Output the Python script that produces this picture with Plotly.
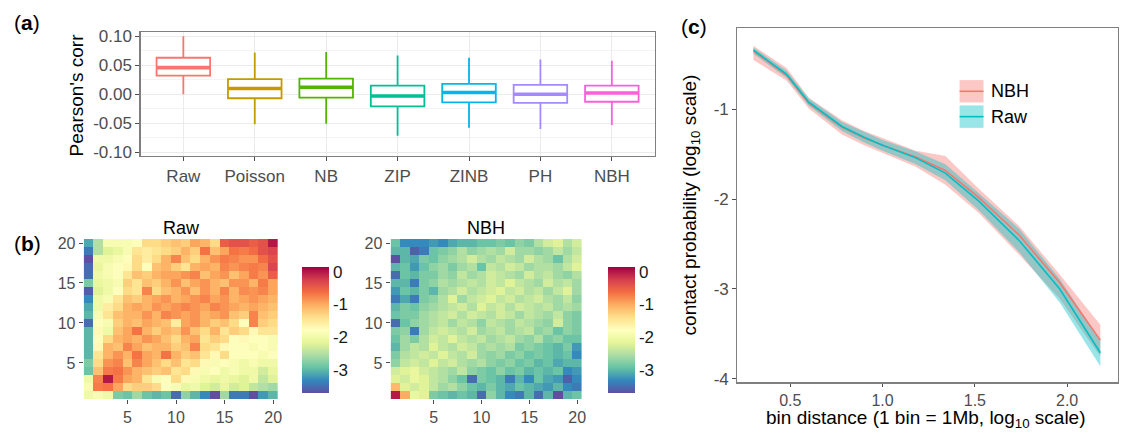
import plotly.graph_objects as go

W, H = 1134, 440
FONT = "Liberation Sans, Arial, Helvetica, sans-serif"

# ---------------- panel (a) data ----------------
models = ["Raw", "Poisson", "NB", "ZIP", "ZINB", "PH", "NBH"]
box_colors = ["#F8766D", "#C49A00", "#53B400", "#00C094", "#00B6EB", "#A58AFF", "#FB61D7"]
upper_whisker = [0.100, 0.072, 0.073, 0.067, 0.063, 0.060, 0.058]
q3_vals = [0.063, 0.026, 0.027, 0.015, 0.018, 0.016, 0.015]
median_vals = [0.046, 0.010, 0.012, -0.003, 0.003, 0.000, 0.002]
q1_vals = [0.032, -0.007, -0.006, -0.021, -0.014, -0.015, -0.013]
lower_whisker = [0.000, -0.052, -0.051, -0.072, -0.058, -0.060, -0.053]
a_yticks = [-0.10, -0.05, 0.00, 0.05, 0.10]
a_yticklabels = ["-0.10", "-0.05", "0.00", "0.05", "0.10"]

# ---------------- panel (b) data (rows listed from bin 20 at top down to bin 1) ----------------
bins = list(range(1, 21))
raw_rows = [
    [-3.1, -2.5, -1.9, -1.9, -1.9, -1.8, -1.35, -1.35, -1.25, -1.15, -1.25, -0.95, -1.05, -1.35, -0.5, -0.4, -0.4, -0.5, -0.4, 0.0],
    [-3.4, -2.5, -2.2, -2.1, -1.9, -1.45, -1.55, -1.45, -1.35, -1.25, -1.05, -1.25, -0.65, -1.15, -0.95, -0.65, -0.7, -0.6, -0.4, -0.3],
    [-3.7, -2.0, -2.0, -1.9, -1.8, -1.35, -1.55, -1.35, -1.05, -0.75, -1.15, -1.35, -1.05, -0.85, -0.7, -0.75, -0.85, -0.85, -0.6, -0.4],
    [-3.5, -2.1, -1.9, -1.8, -1.7, -1.35, -1.8, -1.15, -1.05, -1.25, -1.45, -1.05, -0.95, -1.05, -0.75, -0.85, -0.75, -0.7, -0.75, -0.3],
    [-3.5, -2.0, -1.9, -1.8, -1.45, -1.15, -1.25, -1.05, -0.95, -0.95, -0.85, -0.75, -1.15, -0.95, -0.85, -1.15, -0.95, -0.7, -0.85, -0.5],
    [-2.8, -2.1, -2.0, -1.9, -1.25, -1.45, -1.15, -1.25, -1.05, -0.85, -1.15, -0.95, -0.85, -1.05, -1.15, -0.85, -0.85, -1.05, -0.7, -0.95],
    [-3.6, -2.2, -2.0, -1.8, -1.35, -1.45, -0.75, -1.35, -1.15, -1.05, -0.85, -1.15, -0.85, -1.05, -0.75, -1.05, -0.8, -0.85, -0.75, -0.95],
    [-3.3, -2.0, -1.9, -1.45, -1.15, -1.25, -1.05, -0.95, -0.85, -1.05, -0.95, -0.85, -0.75, -0.95, -0.85, -1.05, -0.95, -0.85, -0.95, -1.05],
    [-3.1, -2.0, -1.55, -1.35, -1.05, -0.95, -1.05, -0.85, -0.95, -0.85, -0.75, -0.85, -0.95, -0.75, -0.85, -0.95, -1.05, -0.95, -1.05, -1.15],
    [-3.0, -1.9, -1.45, -1.15, -1.05, -1.05, -0.85, -1.05, -0.75, -0.85, -0.95, -0.85, -1.05, -0.95, -0.85, -1.15, -1.25, -0.75, -1.15, -1.25],
    [-3.5, -1.8, -1.9, -1.25, -1.05, -1.15, -0.95, -1.05, -1.15, -1.55, -0.95, -0.85, -1.05, -1.25, -1.15, -1.35, -1.8, -0.75, -1.25, -1.35],
    [-3.0, -1.7, -2.0, -1.15, -0.95, -0.65, -1.05, -1.25, -1.05, -1.15, -0.85, -1.15, -1.35, -1.05, -1.45, -1.25, -1.35, -1.7, -1.45, -1.45],
    [-3.0, -1.8, -1.35, -1.05, -0.95, -1.05, -0.85, -0.95, -1.15, -1.35, -1.05, -0.95, -1.45, -1.25, -1.35, -1.8, -1.7, -1.8, -1.8, -1.9],
    [-3.0, -1.7, -1.05, -1.15, -0.75, -0.95, -1.15, -1.05, -1.05, -1.25, -1.15, -0.75, -1.35, -1.45, -1.7, -1.8, -1.8, -1.9, -1.8, -1.9],
    [-3.0, -1.45, -1.05, -0.85, -1.05, -0.65, -0.95, -1.05, -0.65, -1.05, -1.25, -1.15, -1.45, -1.7, -1.35, -1.8, -1.8, -1.8, -1.9, -1.8],
    [-2.8, -1.35, -0.85, -0.75, -1.15, -0.75, -0.95, -1.15, -1.35, -1.15, -1.45, -1.35, -1.7, -1.9, -1.8, -1.9, -2.0, -1.9, -2.0, -2.0],
    [-2.9, -1.15, -0.7, -0.65, -0.85, -1.05, -1.15, -1.25, -1.15, -1.45, -1.35, -1.7, -1.9, -1.8, -2.0, -1.9, -2.0, -2.0, -2.3, -2.1],
    [-2.0, -0.75, 0.0, -0.7, -0.95, -1.05, -1.45, -1.9, -1.8, -1.35, -1.7, -1.9, -2.0, -2.1, -2.0, -2.1, -2.2, -2.0, -2.4, -2.2],
    [-1.9, -0.7, -0.65, -0.95, -1.35, -1.25, -1.25, -1.35, -1.8, -1.9, -2.1, -2.0, -2.2, -2.3, -2.1, -2.3, -2.2, -2.4, -2.5, -2.6],
    [-2.0, -1.9, -2.0, -2.8, -2.9, -2.6, -2.9, -3.0, -2.9, -3.5, -2.7, -3.0, -3.3, -3.7, -2.6, -3.4, -3.4, -3.7, -3.2, -3.0],
]
nbh_rows = [
    [-2.9, -3.3, -3.3, -3.3, -3.2, -3.3, -3.1, -3.0, -3.0, -2.9, -2.9, -2.8, -2.9, -2.7, -2.8, -2.5, -2.3, -2.2, -2.5, -2.3],
    [-3.0, -3.0, -3.6, -3.4, -2.9, -2.8, -2.7, -2.5, -2.7, -2.6, -2.5, -2.6, -2.3, -2.6, -2.6, -2.7, -2.6, -2.4, -2.6, -2.4],
    [-3.7, -3.0, -3.1, -2.8, -2.9, -2.7, -2.6, -2.5, -2.3, -2.5, -2.6, -2.4, -2.5, -2.6, -2.3, -2.5, -2.6, -2.9, -2.5, -2.3],
    [-3.0, -2.9, -3.2, -2.9, -2.7, -2.6, -2.8, -2.6, -2.5, -2.9, -2.4, -2.5, -2.3, -2.4, -2.6, -2.5, -2.5, -2.6, -2.4, -2.2],
    [-3.5, -2.9, -3.0, -2.8, -2.8, -2.6, -2.7, -2.4, -2.6, -2.5, -2.3, -2.4, -2.5, -2.6, -2.3, -2.5, -2.4, -2.6, -2.7, -2.5],
    [-3.0, -3.0, -3.4, -2.8, -2.7, -2.5, -2.6, -2.5, -2.4, -2.5, -2.3, -2.4, -2.2, -2.4, -2.5, -2.6, -2.3, -2.5, -2.4, -2.6],
    [-3.2, -2.9, -3.0, -2.8, -3.0, -2.6, -2.5, -2.3, -2.5, -2.4, -2.3, -2.2, -2.4, -2.3, -2.5, -2.4, -2.6, -2.4, -2.2, -2.6],
    [-3.4, -3.1, -3.4, -2.8, -2.7, -2.5, -2.2, -2.6, -2.4, -2.3, -2.2, -2.4, -2.3, -2.5, -2.4, -2.3, -2.5, -2.6, -2.4, -2.7],
    [-3.0, -2.8, -2.9, -2.7, -2.6, -2.5, -2.4, -2.3, -2.5, -2.2, -2.4, -2.3, -2.5, -2.3, -2.4, -2.5, -2.4, -2.6, -2.5, -2.6],
    [-2.9, -2.8, -2.8, -2.6, -2.5, -2.4, -2.3, -2.5, -2.3, -2.4, -2.5, -2.3, -2.4, -2.6, -2.4, -2.5, -2.6, -2.4, -2.7, -2.8],
    [-3.5, -2.9, -2.7, -2.6, -2.5, -2.4, -2.6, -2.4, -2.5, -2.7, -2.4, -2.5, -2.6, -2.4, -2.5, -2.6, -2.7, -2.3, -2.7, -2.8],
    [-2.8, -2.7, -3.4, -2.6, -2.4, -2.3, -2.4, -2.5, -2.3, -2.6, -2.5, -2.4, -2.6, -2.5, -2.4, -2.7, -2.6, -2.9, -2.7, -2.8],
    [-2.9, -2.6, -2.8, -2.5, -2.3, -2.4, -2.2, -2.4, -2.5, -2.4, -2.6, -2.5, -2.4, -2.6, -2.7, -2.5, -2.8, -2.7, -2.9, -2.9],
    [-3.0, -2.6, -2.4, -2.5, -2.2, -2.4, -2.5, -2.3, -2.4, -2.6, -2.5, -2.6, -2.5, -2.8, -2.7, -2.8, -2.9, -3.0, -2.8, -3.2],
    [-2.8, -2.5, -2.4, -2.3, -2.4, -2.2, -2.4, -2.5, -2.3, -2.6, -2.7, -2.6, -2.8, -2.7, -2.9, -2.8, -2.9, -3.0, -2.9, -3.3],
    [-2.7, -2.4, -2.3, -2.4, -2.2, -2.4, -2.3, -2.5, -2.6, -2.5, -2.7, -2.8, -2.7, -2.9, -2.8, -3.0, -2.9, -3.1, -3.0, -3.0],
    [-2.3, -2.2, -2.1, -2.3, -2.4, -2.5, -2.6, -2.4, -2.7, -2.8, -2.9, -2.7, -2.9, -2.8, -3.0, -2.9, -3.0, -2.9, -3.3, -3.2],
    [-2.2, -2.3, -2.1, -2.2, -2.4, -2.5, -2.7, -2.9, -3.5, -2.8, -2.9, -3.0, -3.4, -3.0, -3.3, -2.9, -3.1, -3.2, -3.6, -3.3],
    [-1.1, -2.2, -2.3, -2.2, -2.4, -2.6, -2.5, -2.7, -2.9, -3.0, -2.8, -3.0, -3.1, -2.9, -3.0, -3.1, -3.2, -3.0, -3.3, -3.4],
    [0.0, -1.0, -2.1, -2.2, -2.8, -2.9, -3.0, -2.9, -3.0, -3.5, -2.7, -3.0, -3.3, -3.4, -3.0, -3.5, -3.0, -3.7, -3.0, -2.9],
]
heat_ticks = [5, 10, 15, 20]
cbar_ticks = [0, -1, -2, -3]
cbar_ticklabels = ["0", "-1", "-2", "-3"]
spectral_rev = ["#5E4FA2", "#3288BD", "#66C2A5", "#ABDDA4", "#E6F598", "#FFFFBF",
                "#FEE08B", "#FDAE61", "#F46D43", "#D53E4F", "#9E0142"]

# ---------------- panel (c) data ----------------
log_dist = [0.30, 0.48, 0.60, 0.78, 0.90, 1.00, 1.18, 1.34, 1.52, 1.74, 1.96, 2.18]
raw_mean = [-0.34, -0.61, -0.92, -1.19, -1.31, -1.40, -1.54, -1.71, -2.02, -2.46, -3.00, -3.71]
raw_lo = [-0.38, -0.65, -0.96, -1.24, -1.37, -1.46, -1.61, -1.79, -2.12, -2.59, -3.15, -3.86]
raw_hi = [-0.31, -0.57, -0.88, -1.14, -1.25, -1.34, -1.47, -1.61, -1.93, -2.33, -2.89, -3.57]
nbh_mean = [-0.35, -0.62, -0.93, -1.20, -1.32, -1.40, -1.53, -1.68, -1.98, -2.40, -2.93, -3.57]
nbh_lo = [-0.45, -0.68, -0.99, -1.28, -1.40, -1.48, -1.64, -1.84, -2.15, -2.62, -3.11, -3.75]
nbh_hi = [-0.29, -0.54, -0.87, -1.12, -1.24, -1.32, -1.46, -1.52, -1.88, -2.30, -2.84, -3.40]
c_xticks = [0.5, 1.0, 1.5, 2.0]
c_xticklabels = ["0.5", "1.0", "1.5", "2.0"]
c_yticks = [-1, -2, -3, -4]
c_yticklabels = ["-1", "-2", "-3", "-4"]


def px_x(v0, v1):
    return [v0 / W, v1 / W]


def px_y(top, bottom):
    return [1 - bottom / H, 1 - top / H]


fig = go.Figure()

# ---- panel (a): boxes ----
for i, m in enumerate(models):
    fig.add_trace(go.Box(
        x=[i], q1=[q1_vals[i]], median=[median_vals[i]], q3=[q3_vals[i]],
        lowerfence=[lower_whisker[i]], upperfence=[upper_whisker[i]],
        width=0.75, whiskerwidth=0, boxpoints=False,
        line=dict(color=box_colors[i], width=1.8), fillcolor="white",
        showlegend=False, xaxis="x", yaxis="y", hoverinfo="skip", name=m))
    fig.add_trace(go.Scatter(
        x=[i - 0.375, i + 0.375], y=[median_vals[i], median_vals[i]], mode="lines",
        line=dict(color=box_colors[i], width=3.6), showlegend=False,
        xaxis="x", yaxis="y", hoverinfo="skip"))

# ---- panel (b): heatmaps ----
cscale = [[k / (len(spectral_rev) - 1), c] for k, c in enumerate(spectral_rev)]
for rows, xa, ya, cbx in [(raw_rows, "x2", "y2", 303), (nbh_rows, "x3", "y3", 610)]:
    fig.add_trace(go.Heatmap(
        z=rows[::-1], x=bins, y=bins, colorscale=cscale, zmin=-3.7, zmax=0.15,
        xaxis=xa, yaxis=ya, hoverinfo="skip",
        colorbar=dict(x=cbx / W, xanchor="left", xpad=0, ypad=0,
                      y=1 - 333 / H, yanchor="middle",
                      lenmode="pixels", len=126, thickness=27, outlinewidth=0,
                      tickvals=cbar_ticks, ticktext=cbar_ticklabels, ticks="",
                      tickfont=dict(size=17, color="#1a1a1a", family=FONT))))

# ---- panel (c): ribbons and lines ----
fig.add_trace(go.Scatter(x=log_dist + log_dist[::-1], y=nbh_hi + nbh_lo[::-1], fill="toself",
                         fillcolor="rgba(248,118,109,0.4)", line=dict(width=0), mode="lines",
                         showlegend=False, xaxis="x4", yaxis="y4", hoverinfo="skip"))
fig.add_trace(go.Scatter(x=log_dist + log_dist[::-1], y=raw_hi + raw_lo[::-1], fill="toself",
                         fillcolor="rgba(0,191,196,0.4)", line=dict(width=0), mode="lines",
                         showlegend=False, xaxis="x4", yaxis="y4", hoverinfo="skip"))
fig.add_trace(go.Scatter(x=log_dist, y=nbh_mean, mode="lines", line=dict(color="#F8766D", width=1.6),
                         showlegend=False, xaxis="x4", yaxis="y4", hoverinfo="skip"))
fig.add_trace(go.Scatter(x=log_dist, y=raw_mean, mode="lines", line=dict(color="#00BFC4", width=1.6),
                         showlegend=False, xaxis="x4", yaxis="y4", hoverinfo="skip"))

tickfont = dict(size=16, color="#4D4D4D", family=FONT)
border = dict(showline=True, mirror=True, linecolor="#7F7F7F", linewidth=1.2)

heat_axis = dict(tickvals=heat_ticks, ticks="outside", ticklen=4, tickcolor="#4D4D4D",
                 tickfont=tickfont, showgrid=False, zeroline=False, showline=False,
                 range=[0.5, 20.5], fixedrange=True)

fig.update_layout(
    width=W, height=H, margin=dict(l=0, r=0, t=0, b=0),
    paper_bgcolor="white", plot_bgcolor="white", boxmode="overlay",
    font=dict(family=FONT),
    xaxis=dict(domain=px_x(141, 657), anchor="y", range=[-0.6, 6.6],
               tickvals=list(range(len(models))), ticktext=models,
               ticks="outside", ticklen=4, tickcolor="#4D4D4D",
               tickfont=dict(size=17, color="#4D4D4D", family=FONT),
               showgrid=True, gridcolor="#EBEBEB", gridwidth=1, zeroline=False, **border),
    yaxis=dict(domain=px_y(28, 155), anchor="x", range=[-0.107, 0.107],
               tickvals=a_yticks, ticktext=a_yticklabels,
               ticks="outside", ticklen=4, tickcolor="#4D4D4D",
               tickfont=dict(size=17, color="#4D4D4D", family=FONT),
               showgrid=True, gridcolor="#EBEBEB", gridwidth=1, zeroline=False,
               minor=dict(tick0=0.025, dtick=0.05, showgrid=True, gridcolor="#F4F4F4", ticks=""),
               **border),
    xaxis2=dict(domain=px_x(84, 279), anchor="y2", **heat_axis),
    yaxis2=dict(domain=px_y(240, 404), anchor="x2", **heat_axis),
    xaxis3=dict(domain=px_x(392, 584), anchor="y3", **heat_axis),
    yaxis3=dict(domain=px_y(240, 404), anchor="x3", **heat_axis),
    xaxis4=dict(domain=px_x(740, 1122), anchor="y4", range=[0.213, 2.276],
                tickvals=c_xticks, ticktext=c_xticklabels,
                ticks="outside", ticklen=3, tickcolor="#4D4D4D",
                tickfont=dict(size=16, color="#4D4D4D", family=FONT),
                showgrid=False, zeroline=False, **border),
    yaxis4=dict(domain=px_y(24, 387), anchor="x4", range=[-4.04, -0.098],
                tickvals=c_yticks, ticktext=c_yticklabels, ticks="outside", ticklen=4,
                tickcolor="#4D4D4D",
                tickfont=dict(size=17, color="#4D4D4D", family=FONT),
                showgrid=False, zeroline=False, **border),
)


def ann(x, y, text, size=18, color="black", angle=0, xanchor="center"):
    fig.add_annotation(x=x / W, y=1 - y / H, xref="paper", yref="paper", text=text,
                       showarrow=False, textangle=angle, xanchor=xanchor, yanchor="middle",
                       font=dict(size=size, color=color, family=FONT))


ann(12, 18, "(<b>a</b>)", size=21, xanchor="left")
ann(12, 245, "(<b>b</b>)", size=21, xanchor="left")
ann(681, 22, "(<b>c</b>)", size=21, xanchor="left")
ann(77, 92, "Pearson's corr", size=19, angle=-90)
ann(182, 229, "Raw", size=18)
ann(488, 229, "NBH", size=18)
ann(693, 205, "contact probability (log<sub>10</sub> scale)", size=19, angle=-90)
ann(929, 425, "bin distance (1 bin = 1Mb, log<sub>10</sub> scale)", size=19)

# legend for panel (c)
legend_items = [("NBH", "rgba(248,118,109,0.4)", "#F8766D", 77), ("Raw", "rgba(0,191,196,0.4)", "#00BFC4", 103)]
for label, fillc, linec, top in legend_items:
    fig.add_shape(type="rect", xref="paper", yref="paper",
                  x0=963 / W, x1=987 / W, y0=1 - (top + 23) / H, y1=1 - top / H,
                  fillcolor=fillc, line=dict(width=0))
    fig.add_shape(type="line", xref="paper", yref="paper",
                  x0=963 / W, x1=987 / W, y0=1 - (top + 11.5) / H, y1=1 - (top + 11.5) / H,
                  line=dict(color=linec, width=1.6))
    ann(993, top + 11.5, label, size=18, xanchor="left")

fig.write_html("out.html", config={"displayModeBar": False, "staticPlot": True},
               post_script="document.body.style.margin='0';document.body.style.overflow='hidden';")
